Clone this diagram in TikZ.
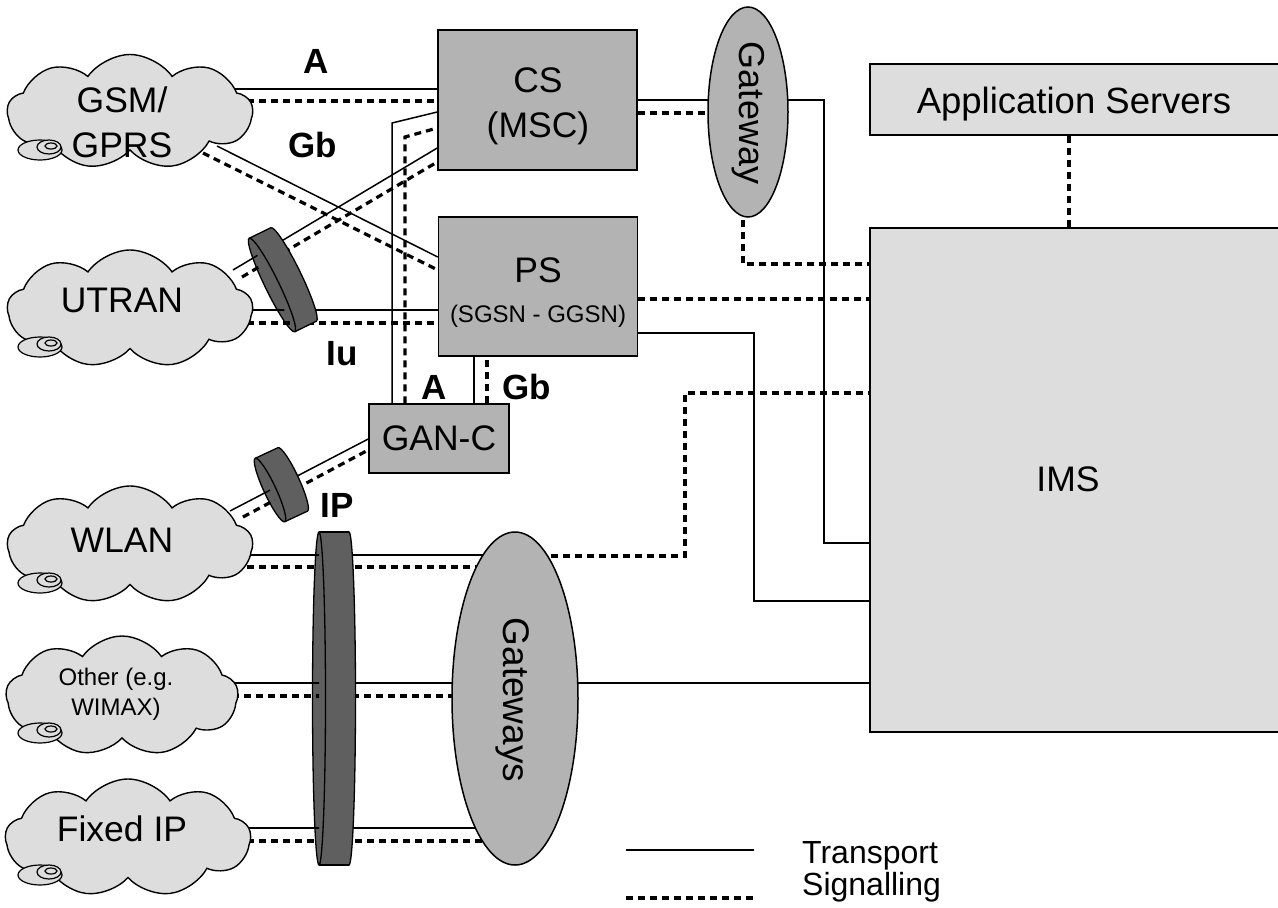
\documentclass[tikz,border=0pt]{standalone}
\usepackage{fontspec}
\setmainfont{Liberation Sans}
\usetikzlibrary{shapes.symbols,shapes.geometric}
\pgfdeclarelayer{bg}
\pgfdeclarelayer{fg}
\pgfsetlayers{bg,main,fg}
\definecolor{lightg}{HTML}{DDDDDD}
\definecolor{midg}{HTML}{B3B3B3}
\definecolor{darkg}{HTML}{5F5F5F}
\tikzset{
 tline/.style={line width=1.5pt},
 sline/.style={line width=3.2pt, dash pattern=on 7pt off 5pt},
 cloudn/.style={cloud, cloud puffs=9, cloud puff arc=110, cloud ignores aspect, draw, line width=1.4pt, fill=lightg, inner sep=0pt},
 box/.style={draw, line width=1.5pt, fill=midg, inner sep=0pt},
 lbox/.style={draw, line width=1.5pt, fill=lightg, inner sep=0pt},
 gwn/.style={ellipse, draw, line width=1.5pt, fill=midg, inner sep=0pt},
 big/.style={font=\fontsize{35.5}{42}\selectfont, inner sep=0pt, anchor=base},
 med/.style={font=\fontsize{24}{30}\selectfont, inner sep=0pt, anchor=base},
 iflbl/.style={font=\fontsize{35}{40}\selectfont\bfseries, inner sep=0pt, anchor=base},
}
\newcommand\cicon[1]{%
 \begin{scope}[shift={(#1)}]
  \draw[line width=1.2pt, fill=lightg] (0,0) ellipse [x radius=22, y radius=10];
  \draw[line width=1.2pt, fill=lightg] (9,-3) ellipse [x radius=12, y radius=7];
  \draw[line width=1.2pt] (11,-4) ellipse [x radius=6, y radius=3];
 \end{scope}}
\newcommand\tube[5]{%
 \begin{scope}[shift={(#1)}, rotate=#2]
  \draw[line width=1.3pt, fill=darkg] (#5,0) ellipse [x radius=#3, y radius=#4];
  \fill[darkg] (0,-#4) rectangle (#5,#4);
  \draw[line width=1.3pt] (0,-#4) -- (#5,-#4) (0,#4) -- (#5,#4);
  \draw[line width=1.3pt, fill=darkg] (0,0) ellipse [x radius=#3, y radius=#4];
 \end{scope}}
\newcommand\tubefront[5]{%
 \begin{scope}[shift={(#1)}, rotate=#2]
  \clip (0,0) ellipse [x radius=#3, y radius=#4];
  \clip (-20,-#4-5) rectangle (0,#4+5);
  \begin{scope}[reset cm]
   #5
  \end{scope}
 \end{scope}}
\begin{document}
\begin{tikzpicture}[x=1pt,y=-1pt]
\useasboundingbox (0,0) rectangle (1278,908);
\clip (0,0) rectangle (1278,908);

% clouds
\node[cloudn, minimum width=245pt, minimum height=115pt] (gsm) at (130,112) {};
\node[cloudn, minimum width=245pt, minimum height=118pt] (utran) at (130,309) {};
\node[cloudn, minimum width=245pt, minimum height=118pt] (wlan) at (130,545) {};
\node[cloudn, minimum width=232pt, minimum height=120pt] (other) at (122,696) {};
\node[cloudn, minimum width=245pt, minimum height=118pt] (fixed) at (128,838) {};
\cicon{40,150}
\cicon{40,347}
\cicon{40,583}
\cicon{40,733}
\cicon{40,875}
\node[big] (gsmt1) at (122,112) {GSM/};
\node[big] (gsmt2) at (122,157) {GPRS};
\node[big] (utrant) at (122,312) {UTRAN};
\node[big] (wlant) at (122,552) {WLAN};
\node[med] (othert1) at (116,685) {Other (e.g.};
\node[med] (othert2) at (116,715) {WIMAX)};
\node[big] (fixedt) at (122,841) {Fixed IP};

% core boxes
\node[box, minimum width=199pt, minimum height=140pt] (cs) at (537.5,100) {};
\node[big] (cst1) at (538,92) {CS};
\node[big] (cst2) at (538,137) {(MSC)};
\node[box, minimum width=199pt, minimum height=139pt] (ps) at (538,286.5) {};
\node[big] (pst1) at (538,282) {PS};
\node[med] (pst2) at (538,322) {(SGSN - GGSN)};
\node[box, minimum width=140pt, minimum height=69pt] (ganc) at (439,438.5) {};
\node[big] (ganct) at (439,450) {GAN-C};

\node[gwn, minimum width=80pt, minimum height=210pt] (gw) at (748,112) {};
\node[font=\fontsize{36}{40}\selectfont, rotate=-90, inner sep=0pt] (gwt) at (748,113) {Gateway};
\node[gwn, minimum width=126pt, minimum height=333pt] (gws) at (515,698.5) {};
\node[font=\fontsize{37}{40}\selectfont, rotate=-90, inner sep=0pt] (gwst) at (513,700) {Gateways};

\node[lbox, minimum width=440pt, minimum height=71pt] (as) at (1090,99.5) {};
\node[big, font=\fontsize{36.5}{42}\selectfont] (ast) at (1074,113) {Application Servers};
\node[lbox, minimum width=440pt, minimum height=504pt] (ims) at (1090,480) {};
\node[big] (imst) at (1068,491) {IMS};

% interface labels
\node[iflbl] (la) at (316,73) {A};
\node[iflbl] (lgb) at (313,157) {Gb};
\node[iflbl] (liu) at (342,365) {Iu};
\node[iflbl] (la2) at (434,399) {A};
\node[iflbl] (lgb2) at (527,399) {Gb};
\node[iflbl] (lip) at (337,517) {IP};

% legend
\coordinate (lt1) at (626,850);
\coordinate (lt2) at (754,850);
\coordinate (ls1) at (626,898);
\coordinate (ls2) at (754,898);
\draw[tline] (lt1) -- (lt2);
\draw[sline] (ls1) -- (ls2);
\node[font=\fontsize{32}{36}\selectfont, inner sep=0pt, anchor=base west] (ltt) at (802,863) {Transport};
\node[font=\fontsize{32}{36}\selectfont, inner sep=0pt, anchor=base west] (lst) at (802,895) {Signalling};

\begin{pgfonlayer}{bg}
% GSM
\draw[tline] (235,89) -- (cs.west |- 0,89);
\draw[sline] (235,101) -- (cs.west |- 0,101);
\draw[tline] (217,146) -- (ps.west |- 0,257);
\draw[sline] (203,153) -- (ps.west |- 0,270);
% UTRAN
\draw[tline] (233,270) -- (cs.west |- 0,148);
\draw[sline] (242,277) -- (cs.west |- 0,162);
\draw[tline] (235,310) -- (ps.west |- 0,310);
\draw[sline] (235,323) -- (ps.west |- 0,323);
% GAN-C
\draw[tline] (ganc.north -| 392,0) -- (392,123) -- (cs.west |- 0,112);
\draw[sline] (ganc.north -| 405,0) -- (405,137) -- (cs.west |- 0,128);
\draw[tline] (ganc.north -| 474,0) -- (ps.south -| 474,0);
\draw[sline] (ganc.north -| 487,0) -- (ps.south -| 487,0);
\draw[tline] (230,511) -- (ganc.west |- 0,439);
\draw[sline] (243,517) -- (ganc.west |- 0,450);
% access to gateways
\draw[tline] (235,555) -- (gws.center |- 0,555);
\draw[sline] (235,567) -- (gws.center |- 0,567);
\draw[tline] (220,683) -- (gws.center |- 0,683);
\draw[sline] (220,696) -- (gws.center |- 0,696);
\draw[tline] (235,828) -- (gws.center |- 0,828);
\draw[sline] (235,841) -- (gws.center |- 0,841);
% gateways to IMS
\draw[tline] (gws.center |- 0,683) -- (ims.west |- 0,683);
\draw[sline] (gws.center |- 0,556) -- (685,556) -- (685,393) -- (ims.west |- 0,393);
% CS / gateway
\draw[tline] (cs.east |- 0,100) -- (gw.center |- 0,100);
\draw[sline] (cs.east |- 0,113) -- (gw.center |- 0,113);
\draw[tline] (gw.center |- 0,100) -- (824,100) -- (824,543) -- (ims.west |- 0,543);
\draw[sline] (743,112) -- (743,264) -- (ims.west |- 0,264);
% PS to IMS
\draw[sline] (ps.east |- 0,299) -- (ims.west |- 0,299);
\draw[tline] (ps.east |- 0,333) -- (754,333) -- (754,601) -- (ims.west |- 0,601);
% AS to IMS
\draw[sline] (as.south -| 1069,0) -- (ims.north -| 1069,0);
\end{pgfonlayer}

\begin{pgfonlayer}{fg}
\tube{272,285}{26}{7}{52}{24}
\tube{270,490}{25}{6}{35}{25}
\tube{319,698.5}{0}{6.5}{166.5}{30}
\tubefront{272,285}{26}{7}{52}{%
 \draw[tline] (233,270) -- (cs.west |- 0,148);
 \draw[sline] (242,277) -- (cs.west |- 0,162);
 \draw[tline] (235,310) -- (ps.west |- 0,310);
 \draw[sline] (235,323) -- (ps.west |- 0,323);}
\tubefront{270,490}{25}{6}{35}{%
 \draw[tline] (230,511) -- (ganc.west |- 0,439);
 \draw[sline] (243,517) -- (ganc.west |- 0,450);}
\tubefront{319,698.5}{0}{6.5}{166.5}{%
 \draw[tline] (235,555) -- (gws.center |- 0,555);
 \draw[sline] (235,567) -- (gws.center |- 0,567);
 \draw[tline] (220,683) -- (gws.center |- 0,683);
 \draw[sline] (220,696) -- (gws.center |- 0,696);
 \draw[tline] (235,828) -- (gws.center |- 0,828);
 \draw[sline] (235,841) -- (gws.center |- 0,841);}
\end{pgfonlayer}
\end{tikzpicture}
\end{document}
